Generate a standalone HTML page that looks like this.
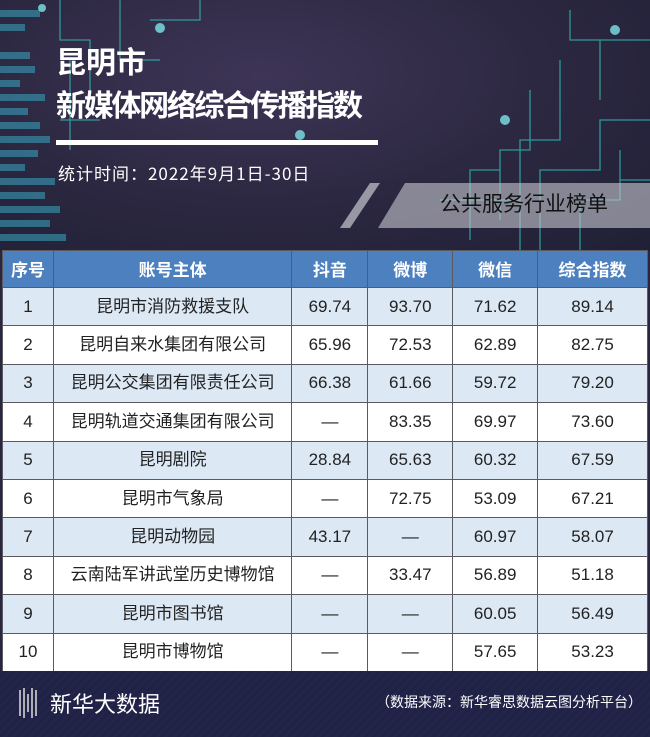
<!DOCTYPE html>
<html><head><meta charset="utf-8"><style>
body{margin:0;width:650px;height:737px;overflow:hidden;background:#2a2640;font-family:"Liberation Sans","Noto Sans CJK SC",sans-serif;}
#top{position:absolute;left:0;top:0;width:650px;height:251px;background:radial-gradient(ellipse at 40% 30%,#3e3556 0%,#2b2740 55%,#1f2036 100%);overflow:hidden}
.t1{position:absolute;left:56px;color:#fff;font-weight:bold;font-family:"Noto Sans CJK SC",sans-serif;line-height:1}
table{position:absolute;left:2px;top:250px;border-collapse:collapse;width:646px;}
td{border:1.5px solid #5a5a60;height:37.4px;line-height:20px;text-align:center;vertical-align:middle;font-size:17px;color:#222;padding:0;font-family:"Liberation Sans","Noto Sans CJK SC",sans-serif}
tr.h td{background:#4d80bf;color:#fff;font-weight:bold;height:36px;font-family:"Noto Sans CJK SC",sans-serif;font-size:17px}
tr.o td{background:#dce8f4}
tr.e td{background:#fff}
#foot{position:absolute;left:0;top:671px;width:650px;height:66px;background:repeating-linear-gradient(135deg,#22244a 0 3px,#1f2145 3px 6px)}
</style></head><body>
<div id="top">
<svg width="650" height="251" style="position:absolute;left:0;top:0">
<g fill="#3aa6c0" opacity="0.55">
<rect x="0" y="10" width="40" height="7"/><rect x="0" y="24" width="25" height="7"/><rect x="0" y="52" width="30" height="7"/><rect x="0" y="66" width="35" height="7"/><rect x="0" y="80" width="20" height="7"/><rect x="0" y="94" width="45" height="7"/><rect x="0" y="108" width="28" height="7"/><rect x="0" y="122" width="40" height="7"/><rect x="0" y="136" width="50" height="7"/><rect x="0" y="150" width="38" height="7"/><rect x="0" y="164" width="25" height="7"/><rect x="0" y="178" width="55" height="7"/><rect x="0" y="192" width="45" height="7"/><rect x="0" y="206" width="60" height="7"/><rect x="0" y="220" width="50" height="7"/><rect x="0" y="234" width="66" height="7"/>
</g>
<g stroke="#2fb5b0" stroke-width="1.3" fill="none" opacity="0.8">
<path d="M520 250 V140 H560 V60 M540 250 V170 H600 V120 H650 M580 250 V200 H620 V150 M600 100 V40 H650 M570 10 V40 H610 M500 220 V150 H530 V90 M620 180 H650 M440 200 H520 M470 240 V170 H500"/>
<path d="M60 0 V40 H90 V100 M120 0 V60 H160 M150 20 H200 V0 M100 120 H60 M70 60 V150"/>
</g>
<g fill="#8ff" opacity="0.7"><circle cx="160" cy="28" r="5"/><circle cx="300" cy="135" r="5"/><circle cx="505" cy="120" r="5"/><circle cx="615" cy="30" r="5"/><circle cx="42" cy="8" r="4"/></g>
<polygon points="340,228 370,183 380,183 350,228" fill="#c8c8d0" opacity="0.7"/>
<polygon points="378,228 405,183 650,183 650,228" fill="#c8c8d0" opacity="0.6"/>
<rect x="56" y="140" width="322" height="5" fill="#fff"/>
</svg>
<div class="t1" style="top:45px;font-size:30px">昆明市</div>
<div class="t1" style="top:88px;font-size:30px;letter-spacing:-2.3px">新媒体网络综合传播指数</div>
<div style="position:absolute;left:58px;top:160px;color:#fff;font-size:17px;font-family:'Noto Sans CJK SC',sans-serif;letter-spacing:1px">统计时间：2022年9月1日-30日</div>
<div style="position:absolute;left:440px;top:193px;color:#111;font-size:21px;line-height:1;font-family:'Noto Sans CJK SC',sans-serif">公共服务行业榜单</div>
</div>
<table>
<colgroup><col style="width:51px"><col style="width:239px"><col style="width:76px"><col style="width:85px"><col style="width:85px"><col style="width:110px"></colgroup>
<tr class="h"><td>序号</td><td>账号主体</td><td>抖音</td><td>微博</td><td>微信</td><td>综合指数</td></tr>
<tr class="o"><td>1</td><td>昆明市消防救援支队</td><td>69.74</td><td>93.70</td><td>71.62</td><td>89.14</td></tr>
<tr class="e"><td>2</td><td>昆明自来水集团有限公司</td><td>65.96</td><td>72.53</td><td>62.89</td><td>82.75</td></tr>
<tr class="o"><td>3</td><td>昆明公交集团有限责任公司</td><td>66.38</td><td>61.66</td><td>59.72</td><td>79.20</td></tr>
<tr class="e"><td>4</td><td>昆明轨道交通集团有限公司</td><td>—</td><td>83.35</td><td>69.97</td><td>73.60</td></tr>
<tr class="o"><td>5</td><td>昆明剧院</td><td>28.84</td><td>65.63</td><td>60.32</td><td>67.59</td></tr>
<tr class="e"><td>6</td><td>昆明市气象局</td><td>—</td><td>72.75</td><td>53.09</td><td>67.21</td></tr>
<tr class="o"><td>7</td><td>昆明动物园</td><td>43.17</td><td>—</td><td>60.97</td><td>58.07</td></tr>
<tr class="e"><td>8</td><td>云南陆军讲武堂历史博物馆</td><td>—</td><td>33.47</td><td>56.89</td><td>51.18</td></tr>
<tr class="o"><td>9</td><td>昆明市图书馆</td><td>—</td><td>—</td><td>60.05</td><td>56.49</td></tr>
<tr class="e"><td>10</td><td>昆明市博物馆</td><td>—</td><td>—</td><td>57.65</td><td>53.23</td></tr>
</table>
<div id="foot">
<svg width="20" height="34" style="position:absolute;left:18px;top:15px"><g stroke="#ddd" stroke-width="1.5"><line x1="2" y1="4" x2="2" y2="30"/><line x1="6" y1="2" x2="6" y2="32"/><line x1="10" y1="8" x2="10" y2="26"/><line x1="14" y1="2" x2="14" y2="32"/><line x1="18" y1="4" x2="18" y2="30"/></g></svg>
<div style="position:absolute;left:50px;top:16px;color:#fff;font-size:22px;font-family:'Noto Sans CJK SC',sans-serif">新华大数据</div>
<div style="position:absolute;right:8px;top:21px;color:#fff;font-size:14px;font-family:'Noto Sans CJK SC',sans-serif">（数据来源：新华睿思数据云图分析平台）</div>
</div>
</body></html>
